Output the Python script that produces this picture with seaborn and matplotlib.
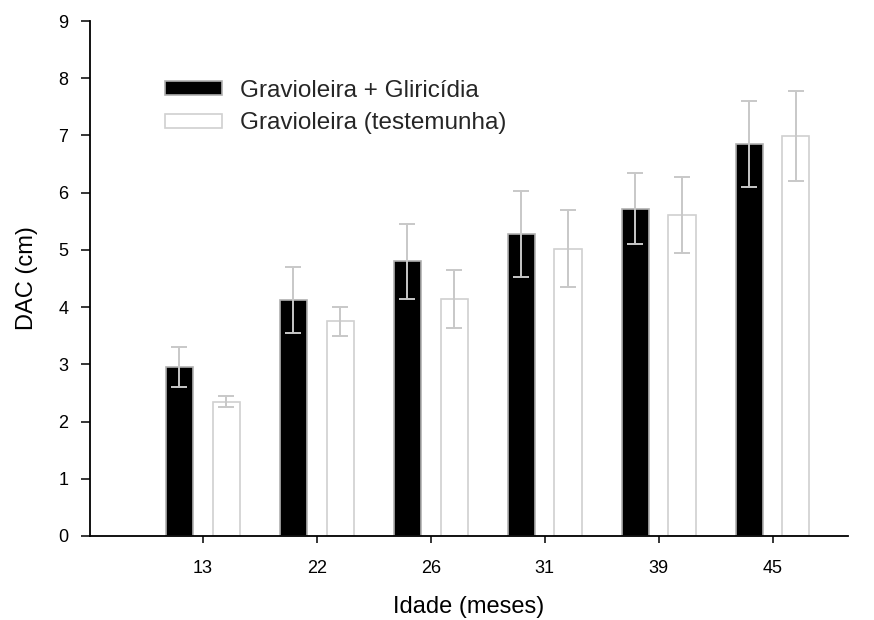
import matplotlib
matplotlib.use("Agg")
import matplotlib.pyplot as plt
import seaborn as sns
import pandas as pd
from matplotlib.patches import Patch

# ---- data ----
idades = ["13", "22", "26", "31", "39", "45"]
series_names = ["Gravioleira + Gliricídia", "Gravioleira (testemunha)"]
dac_glir = [2.96, 4.12, 4.80, 5.28, 5.72, 6.85]
err_glir = [0.35, 0.58, 0.66, 0.75, 0.62, 0.75]
dac_test = [2.35, 3.75, 4.14, 5.02, 5.61, 6.99]
err_test = [0.10, 0.26, 0.50, 0.67, 0.66, 0.79]
yticks = [0, 1, 2, 3, 4, 5, 6, 7, 8, 9]
xlabel = "Idade (meses)"
ylabel = "DAC (cm)"

df = pd.DataFrame({
    "Idade": idades * 2,
    "DAC": dac_glir + dac_test,
    "Tratamento": [series_names[0]] * len(idades) + [series_names[1]] * len(idades),
})

sns.set_theme(style="ticks")
plt.rcParams["font.family"] = ["Liberation Sans", "DejaVu Sans"]

fig = plt.figure(figsize=(8.74, 6.2), dpi=100)
ax = fig.add_axes([0.103, 0.1355, 0.867, 0.8306])

edge_cols = ["#b0b0b0", "#d0d0d0"]
sns.barplot(data=df, x="Idade", y="DAC", hue="Tratamento", order=idades,
            hue_order=series_names, palette=["black", "white"], width=0.82,
            gap=0.42, errorbar=None, legend=False, linewidth=1.2, ax=ax)

means = [dac_glir, dac_test]
errs = [err_glir, err_test]
bar_containers = list(ax.containers)
for i, cont in enumerate(bar_containers):
    xs = []
    for p in cont.patches:
        p.set_edgecolor(edge_cols[i])
        p.set_linewidth(1.2)
        xs.append(p.get_x() + p.get_width() / 2)
    ax.errorbar(xs, means[i], yerr=errs[i], fmt="none", ecolor="#c8c8c8",
                elinewidth=1.4, capsize=6, capthick=1.4, zorder=5)

ax.set_xlim(-0.99, 5.66)
ax.set_ylim(0, 9)
ax.set_yticks(yticks)
sns.despine(ax=ax)
for s in ["left", "bottom"]:
    ax.spines[s].set_linewidth(1.3)
    ax.spines[s].set_color("black")

ax.tick_params(axis="x", direction="out", length=5, width=1.1, pad=12,
               labelsize=13, colors="black")
ax.tick_params(axis="y", direction="out", length=6.5, width=1.1, pad=9,
               labelsize=13, colors="black")

ax.set_xlabel(xlabel, fontsize=17, labelpad=14, color="black")
ax.set_ylabel(ylabel, fontsize=17, labelpad=15, color="black")

handles = [Patch(facecolor="black", edgecolor=edge_cols[0], linewidth=1.2),
           Patch(facecolor="white", edgecolor=edge_cols[1], linewidth=1.2)]
ax.legend(handles=handles, labels=series_names, loc="upper left",
          bbox_to_anchor=(0.099, 0.886), frameon=False, borderpad=0,
          borderaxespad=0, fontsize=17.5, handlelength=2.35, handleheight=0.5,
          handletextpad=0.74, labelspacing=0.44)

fig.savefig("out.png", dpi=100)
